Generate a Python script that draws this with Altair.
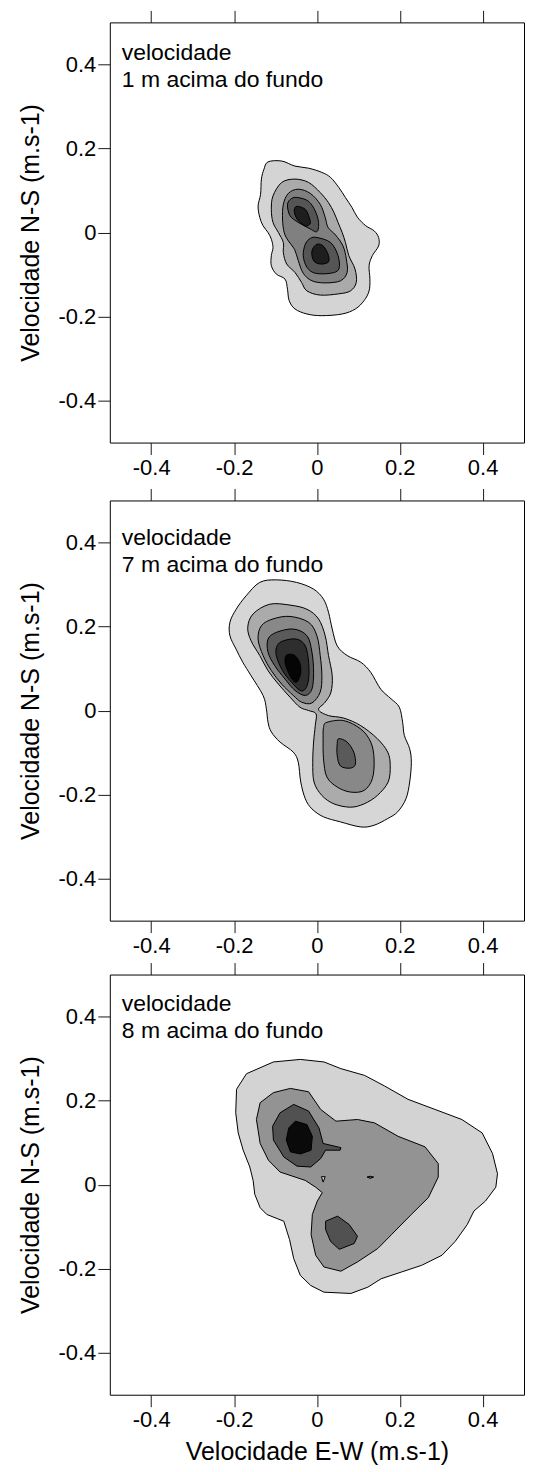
import altair as alt
import pandas as pd

# ---------------- data ----------------
TICKS = [-0.4, -0.2, 0.0, 0.2, 0.4]
X_TITLE = "Velocidade E-W (m.s-1)"
Y_TITLE = "Velocidade N-S (m.s-1)"
LABELS = [["velocidade", "1 m acima do fundo"],
          ["velocidade", "7 m acima do fundo"],
          ["velocidade", "8 m acima do fundo"]]

# Panel 1 (1 m) contour polygons, one list of polygons per level (outer -> inner)
P1_L1 = [[(-0.118, 0.168), (-0.085, 0.170), (-0.053, 0.158), (-0.020, 0.153), (0.012, 0.143),
          (0.033, 0.131), (0.053, 0.107), (0.069, 0.083), (0.085, 0.059), (0.098, 0.036),
          (0.118, 0.016), (0.138, 0.004), (0.149, -0.012), (0.149, -0.032), (0.134, -0.055),
          (0.126, -0.079), (0.128, -0.111), (0.126, -0.139), (0.114, -0.162), (0.093, -0.182),
          (0.061, -0.194), (0.012, -0.198), (-0.024, -0.194), (-0.053, -0.182), (-0.067, -0.162),
          (-0.071, -0.135), (-0.077, -0.111), (-0.098, -0.099), (-0.110, -0.079), (-0.110, -0.055),
          (-0.106, -0.036), (-0.110, -0.016), (-0.118, 0.000), (-0.130, 0.016), (-0.138, 0.036),
          (-0.142, 0.063), (-0.136, 0.091), (-0.134, 0.127), (-0.128, 0.150)]]
P1_L2 = [[(-0.085, 0.119), (-0.053, 0.127), (-0.020, 0.119), (0.008, 0.095), (0.028, 0.071),
          (0.041, 0.048), (0.051, 0.024), (0.061, 0.000), (0.069, -0.024), (0.077, -0.055),
          (0.092, -0.087), (0.095, -0.119), (0.081, -0.139), (0.053, -0.146), (0.008, -0.149),
          (-0.024, -0.139), (-0.037, -0.119), (-0.053, -0.095), (-0.073, -0.075), (-0.081, -0.048),
          (-0.081, -0.024), (-0.093, 0.000), (-0.106, 0.024), (-0.110, 0.055), (-0.106, 0.087)]]
P1_L3 = [[(-0.045, 0.103), (-0.016, 0.093), (0.008, 0.067), (0.020, 0.036), (0.027, 0.012),
          (0.045, -0.006), (0.063, -0.032), (0.071, -0.063), (0.073, -0.095), (0.057, -0.115),
          (0.020, -0.120), (-0.012, -0.115), (-0.033, -0.097), (-0.045, -0.067), (-0.054, -0.040),
          (-0.069, -0.020), (-0.079, 0.000), (-0.083, 0.032), (-0.081, 0.067), (-0.069, 0.093)]]
P1_L4 = [[(-0.045, 0.083), (-0.020, 0.074), (-0.004, 0.051), (0.004, 0.024), (0.000, 0.002),
          (-0.019, 0.010), (-0.045, 0.024), (-0.065, 0.040), (-0.071, 0.067), (-0.061, 0.081)],
         [(0.000, -0.012), (0.033, -0.024), (0.051, -0.055), (0.053, -0.087), (0.033, -0.097),
          (-0.004, -0.097), (-0.024, -0.083), (-0.033, -0.055), (-0.028, -0.028), (-0.016, -0.014)]]
P1_L5 = [[(-0.045, 0.062), (-0.028, 0.055), (-0.020, 0.040), (-0.016, 0.022), (-0.027, 0.016),
          (-0.045, 0.028), (-0.054, 0.046), (-0.053, 0.059)],
         [(0.000, -0.028), (0.016, -0.033), (0.028, -0.055), (0.027, -0.071), (0.008, -0.075),
          (-0.008, -0.067), (-0.012, -0.044)]]
P1_COLORS = ["#d4d4d4", "#aaaaaa", "#808080", "#555555", "#1e1e1e"]

# Panel 2 (7 m)
P2_L1 = [[(-0.138, 0.305), (-0.098, 0.311), (-0.049, 0.305), (-0.008, 0.289), (0.016, 0.265),
          (0.028, 0.234), (0.037, 0.194), (0.049, 0.154), (0.073, 0.131), (0.106, 0.115),
          (0.130, 0.091), (0.154, 0.051), (0.179, 0.028), (0.199, 0.008), (0.207, -0.028),
          (0.211, -0.059), (0.224, -0.091), (0.228, -0.123), (0.224, -0.170), (0.215, -0.210),
          (0.195, -0.241), (0.171, -0.257), (0.138, -0.273), (0.106, -0.277), (0.057, -0.265),
          (0.016, -0.253), (-0.012, -0.234), (-0.028, -0.210), (-0.039, -0.170), (-0.045, -0.123),
          (-0.057, -0.099), (-0.089, -0.075), (-0.110, -0.051), (-0.118, -0.028), (-0.122, 0.004),
          (-0.130, 0.036), (-0.159, 0.083), (-0.179, 0.115), (-0.195, 0.146), (-0.210, 0.178),
          (-0.210, 0.210), (-0.195, 0.241), (-0.171, 0.273)]]
P2_L2 = [[(-0.114, 0.253), (-0.065, 0.251), (-0.024, 0.241), (0.004, 0.218), (0.020, 0.178),
          (0.028, 0.131), (0.037, 0.083), (0.034, 0.044), (0.020, 0.020), (0.004, 0.002),
          (0.028, -0.012), (0.065, -0.018), (0.106, -0.036), (0.146, -0.067), (0.171, -0.099),
          (0.177, -0.131), (0.172, -0.170), (0.146, -0.202), (0.114, -0.222), (0.081, -0.230),
          (0.041, -0.222), (0.012, -0.202), (-0.007, -0.170), (-0.010, -0.123), (-0.008, -0.075),
          (-0.004, -0.036), (-0.002, -0.008), (-0.020, 0.000), (-0.041, 0.008), (-0.065, 0.032),
          (-0.093, 0.063), (-0.118, 0.095), (-0.138, 0.131), (-0.159, 0.166), (-0.167, 0.198),
          (-0.154, 0.230)]]
P2_L3 = [[(-0.106, 0.218), (-0.065, 0.224), (-0.020, 0.210), (0.000, 0.178), (0.008, 0.131),
          (0.012, 0.083), (0.008, 0.044), (-0.012, 0.018), (-0.037, 0.020), (-0.057, 0.036),
          (-0.085, 0.063), (-0.110, 0.095), (-0.130, 0.131), (-0.142, 0.170), (-0.134, 0.202)],
         [(0.024, -0.028), (0.065, -0.024), (0.106, -0.044), (0.130, -0.075), (0.138, -0.115),
          (0.134, -0.162), (0.114, -0.190), (0.081, -0.194), (0.049, -0.182), (0.024, -0.158),
          (0.016, -0.115), (0.015, -0.067), (0.016, -0.040)]]
P2_L4 = [[(-0.098, 0.186), (-0.057, 0.194), (-0.024, 0.178), (-0.012, 0.139), (-0.008, 0.091),
          (-0.012, 0.051), (-0.028, 0.036), (-0.053, 0.048), (-0.077, 0.075), (-0.102, 0.107),
          (-0.118, 0.139), (-0.118, 0.170)],
         [(0.053, -0.067), (0.073, -0.075), (0.089, -0.099), (0.093, -0.127), (0.081, -0.137),
          (0.057, -0.132), (0.049, -0.107), (0.049, -0.079)]]
P2_L5 = [[(-0.081, 0.166), (-0.049, 0.170), (-0.028, 0.154), (-0.020, 0.115), (-0.020, 0.075),
          (-0.028, 0.051), (-0.041, 0.048), (-0.061, 0.067), (-0.083, 0.095), (-0.098, 0.131),
          (-0.096, 0.154)]]
P2_L6 = [[(-0.073, 0.132), (-0.055, 0.132), (-0.042, 0.115), (-0.039, 0.091), (-0.047, 0.069),
          (-0.057, 0.071), (-0.069, 0.091), (-0.077, 0.115)]]
P2_COLORS = ["#d6d6d6", "#ababab", "#888888", "#5a5a5a", "#2e2e2e", "#050505"]

# Panel 3 (8 m)
P3_L1 = [[(-0.170, 0.264), (-0.105, 0.292), (-0.040, 0.298), (0.017, 0.292), (0.058, 0.276),
          (0.115, 0.260), (0.163, 0.235), (0.220, 0.203), (0.285, 0.179), (0.350, 0.155),
          (0.399, 0.123), (0.424, 0.074), (0.436, 0.026), (0.432, -0.006), (0.407, -0.039),
          (0.379, -0.063), (0.363, -0.095), (0.334, -0.135), (0.302, -0.168), (0.253, -0.192),
          (0.204, -0.208), (0.155, -0.224), (0.123, -0.244), (0.082, -0.259), (0.017, -0.256),
          (-0.015, -0.240), (-0.040, -0.216), (-0.056, -0.176), (-0.066, -0.131), (-0.080, -0.087),
          (-0.121, -0.071), (-0.137, -0.055), (-0.150, -0.023), (-0.154, 0.010), (-0.162, 0.042),
          (-0.178, 0.082), (-0.190, 0.123), (-0.196, 0.171), (-0.194, 0.227)]]
P3_L2 = [[(-0.137, 0.195), (-0.105, 0.219), (-0.064, 0.229), (-0.020, 0.221), (0.009, 0.179),
          (0.046, 0.151), (0.098, 0.155), (0.139, 0.147), (0.196, 0.115), (0.261, 0.090),
          (0.293, 0.050), (0.293, 0.018), (0.269, -0.031), (0.228, -0.071), (0.180, -0.119),
          (0.147, -0.152), (0.098, -0.184), (0.058, -0.206), (0.017, -0.196), (-0.003, -0.168),
          (-0.014, -0.119), (-0.011, -0.071), (0.001, -0.039), (0.013, -0.019), (-0.003, -0.006),
          (-0.028, 0.010), (-0.089, 0.030), (-0.117, 0.058), (-0.137, 0.098), (-0.146, 0.155)]]
P3_HOLE = [[(0.011, 0.019), (0.020, 0.019), (0.015, 0.006)]]
P3_L3 = [[(-0.089, 0.171), (-0.056, 0.191), (-0.020, 0.175), (0.005, 0.135), (0.015, 0.098),
          (0.058, 0.088), (0.056, 0.082), (0.021, 0.082), (0.009, 0.062), (-0.015, 0.042),
          (-0.048, 0.044), (-0.080, 0.066), (-0.105, 0.106), (-0.107, 0.139)],
         [(0.021, -0.087), (0.050, -0.075), (0.078, -0.095), (0.098, -0.123), (0.090, -0.140),
          (0.054, -0.154), (0.033, -0.135), (0.021, -0.107)],
         [(0.121, 0.018), (0.129, 0.020), (0.137, 0.018), (0.129, 0.015)]]
P3_L4 = [[(-0.052, 0.151), (-0.024, 0.143), (-0.011, 0.115), (-0.014, 0.082), (-0.040, 0.073),
          (-0.064, 0.078), (-0.074, 0.106), (-0.068, 0.135)]]
P3_COLORS = ["#d3d3d3", "#939393", "#d3d3d3", "#515151", "#0a0a0a"]

PANELS = [
    ([P1_L1, P1_L2, P1_L3, P1_L4, P1_L5], P1_COLORS, "cardinal-closed", 38),
    ([P2_L1, P2_L2, P2_L3, P2_L4, P2_L5, P2_L6], P2_COLORS, "cardinal-closed", 45),
    ([P3_L1, P3_L2, P3_HOLE, P3_L3, P3_L4], P3_COLORS, "linear-closed", 37),
]

# ---------------- chart ----------------
FONT = "Liberation Sans"
W, H = 415, 421
xs = alt.Scale(domain=[-0.5, 0.5], nice=False, zero=False)
ys = alt.Scale(domain=[-0.5, 0.5], nice=False, zero=False)
LABEL_EXPR = ("datum.value == 0 ? '0' : (datum.value < 0 ? '-' + format(-datum.value, '.1f')"
              " : format(datum.value, '.1f'))")


def level_frame(polys):
    rows = []
    for p, pts in enumerate(polys):
        for i, (x, y) in enumerate(pts):
            rows.append({"poly": p, "i": i, "x": x, "y": y})
    return pd.DataFrame(rows)


def axis(orient, labels, title=None):
    kw = dict(orient=orient, values=TICKS, tickSize=12, tickColor="#1a1a1a", tickWidth=1,
              domain=False, grid=False, labels=labels, labelFont=FONT, labelFontSize=22,
              labelColor="black", labelExpr=LABEL_EXPR, titleFont=FONT,
              titleFontSize=25, titleFontWeight="normal", titleColor="black")
    kw["title"] = title
    if orient in ("bottom", "top"):
        kw["labelPadding"] = 3
        kw["titlePadding"] = 9
    else:
        kw["labelPadding"] = 2
        kw["titlePadding"] = 15
    return alt.Axis(**kw)


def panel(levels, colors, interp, text_y, lines, show_xtitle):
    layers = []
    outer = level_frame(levels[0])
    layers.append(alt.Chart(outer).mark_line(opacity=0).encode(
        x=alt.X("x:Q", scale=xs, axis=axis("bottom", True, X_TITLE if show_xtitle else None)),
        y=alt.Y("y:Q", scale=ys, axis=axis("left", True, Y_TITLE)),
        detail="poly:N", order="i:Q"))
    layers.append(alt.Chart(outer).mark_line(opacity=0).encode(
        x=alt.X("x:Q", scale=xs, axis=axis("top", False)),
        y=alt.Y("y:Q", scale=ys, axis=None),
        detail="poly:N", order="i:Q"))
    for polys, col in zip(levels, colors):
        df = level_frame(polys)
        layers.append(alt.Chart(df).mark_line(
            interpolate=interp, fill=col, stroke="black", strokeWidth=1).encode(
            x=alt.X("x:Q", scale=xs, axis=None),
            y=alt.Y("y:Q", scale=ys, axis=None),
            detail="poly:N", order="i:Q"))
    layers.append(alt.Chart(pd.DataFrame({"a": [0]})).mark_text(
        align="left", baseline="alphabetic", font=FONT, fontSize=23, lineHeight=27,
        color="black").encode(x=alt.value(12), y=alt.value(text_y), text=alt.value(lines)))
    return alt.layer(*layers).resolve_axis(x="independent", y="independent").properties(
        width=W, height=H)


charts = []
for k, (levels, colors, interp, ty) in enumerate(PANELS):
    charts.append(panel(levels, colors, interp, ty, LABELS[k], k == 2))

top_pair = alt.vconcat(charts[0], charts[1], spacing=8)
chart = alt.vconcat(top_pair, charts[2], spacing=4).properties(
    padding={"left": 9, "top": 0, "right": 0, "bottom": 0},
    background="white",
).configure_view(stroke="black", strokeWidth=1)

chart.save("out.html", embed_options={"renderer": "svg", "actions": False})
